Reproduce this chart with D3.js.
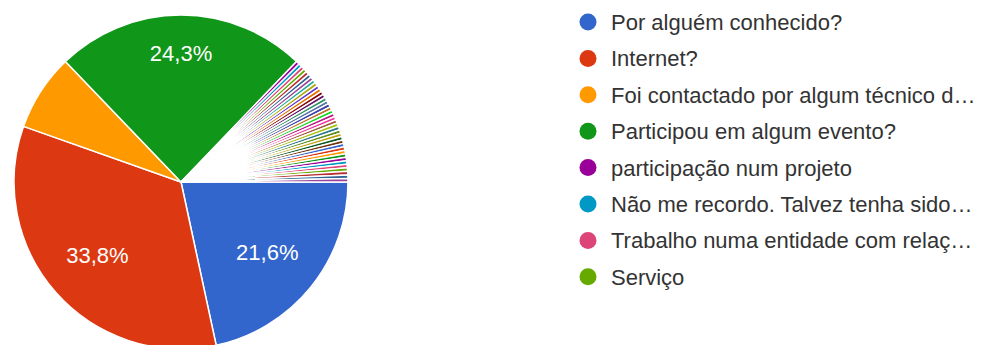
<!DOCTYPE html>
<html>
<head>
<meta charset="utf-8">
<script src="https://cdn.jsdelivr.net/npm/d3@7"></script>
<style>
  html, body { margin: 0; padding: 0; background: #fff; }
  svg { display: block; }
</style>
</head>
<body>
<svg id="chart" width="995" height="345"></svg>
<script>
// Responses per answer, in answer order (the single-response answers follow "Participou em algum evento?")
const values = [64, 100, 22, 72,
  1, 1, 1, 1, 1, 1, 1, 1, 1, 1,
  1, 1, 1, 1, 1, 1, 1, 1, 1, 1,
  1, 1, 1, 1, 1, 1, 1, 1, 1, 1,
  1, 1, 1, 1, 1, 1, 1, 1];

// Legend entries shown on the first legend page
const categories = [
  "Por alguém conhecido?",
  "Internet?",
  "Foi contactado por algum técnico d…",
  "Participou em algum evento?",
  "participação num projeto",
  "Não me recordo. Talvez tenha sido…",
  "Trabalho numa entidade com relaç…",
  "Serviço"
];

// Default chart palette, cycled
const palette = ["#3366cc", "#dc3912", "#ff9900", "#109618", "#990099", "#0099c6",
  "#dd4477", "#66aa00", "#b82e2e", "#316395", "#994499", "#22aa99", "#aaaa11",
  "#6633cc", "#e67300", "#8b0707", "#651067", "#329262", "#5574a6", "#3b3eac",
  "#b77322", "#16d620", "#b91383", "#f4359e", "#9c5935", "#a9c413", "#2a778d",
  "#668d1c", "#bea413", "#0c5922", "#743411"];

const svg = d3.select("#chart");
const cx = 181, cy = 182, radius = 167;
const total = d3.sum(values);

const color = d3.scaleOrdinal().domain(d3.range(values.length)).range(palette);

const pie = d3.pie().sort(null)
  .startAngle(Math.PI / 2)
  .endAngle(Math.PI / 2 + 2 * Math.PI);
const arcs = pie(values);
const arc = d3.arc().innerRadius(0).outerRadius(radius);

const g = svg.append("g").attr("transform", `translate(${cx},${cy})`);

g.selectAll("path.slice")
  .data(arcs)
  .join("path")
  .attr("class", "slice")
  .attr("d", arc)
  .attr("fill", (d, i) => color(i))
  .attr("stroke", "#ffffff")
  .attr("stroke-width", 1.5)
  .attr("stroke-linejoin", "round");

// Percentage labels: placed along each slice's mid-angle so that the
// outer corner of the text box sits at 85% of the radius.
const fmt = v => (v * 100).toFixed(1).replace(".", ",") + "%";
const labelled = arcs.filter(d => d.value / total >= 0.1);
const labels = g.selectAll("text.pct")
  .data(labelled)
  .join("text")
  .attr("class", "pct")
  .attr("text-anchor", "middle")
  .attr("dy", "0.36em")
  .attr("fill", "#ffffff")
  .attr("font-family", "Arial, 'Liberation Sans', sans-serif")
  .attr("font-size", 22)
  .text(d => fmt(d.value / total));

labels.each(function (d) {
  const w = this.getComputedTextLength();
  const h = 20;
  const a = (d.startAngle + d.endAngle) / 2;
  const ux = Math.sin(a), uy = -Math.cos(a);
  const ox = Math.sign(ux) * w / 2 || w / 2;
  const oy = Math.sign(uy) * h / 2;
  const target = radius * 0.85;
  // solve |d*u + o| = target for d
  const b = ux * ox + uy * oy;
  const c = ox * ox + oy * oy - target * target;
  const dist = -b + Math.sqrt(b * b - c);
  d3.select(this).attr("x", dist * ux).attr("y", dist * uy);
});

// Legend
const legend = svg.append("g").attr("transform", "translate(588,22)");
const rowH = 36.4;
const items = legend.selectAll("g.item")
  .data(categories)
  .join("g")
  .attr("class", "item")
  .attr("transform", (d, i) => `translate(0,${i * rowH})`);

items.append("circle")
  .attr("r", 8.5)
  .attr("fill", (d, i) => color(i));

items.append("text")
  .attr("x", 23)
  .attr("dy", "0.36em")
  .attr("fill", "#333333")
  .attr("font-family", "Arial, 'Liberation Sans', sans-serif")
  .attr("font-size", 22)
  .text(d => d);
</script>
</body>
</html>
